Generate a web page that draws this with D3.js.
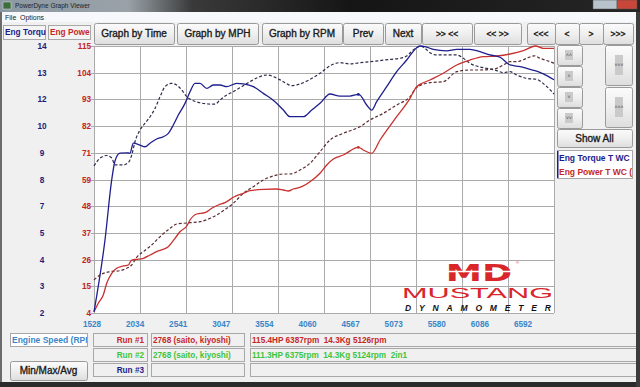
<!DOCTYPE html>
<html>
<head>
<meta charset="utf-8">
<script src="https://cdn.jsdelivr.net/npm/d3@7"></script>
<style>
  body { margin: 0; background: #f0f0f0; overflow: hidden; }
  svg { display: block; font-family: "Liberation Sans", Arial, sans-serif; }
  text { white-space: pre; }
</style>
</head>
<body>
<svg id="chart" width="640" height="387"></svg>
<script>
// rpm tick values along the x axis
const rpmTicks = [1528, 2034, 2541, 3047, 3554, 4060, 4567, 5073, 5580, 6086, 6592];
// left axis tick labels, top to bottom
const torqueTickLabels = ["14", "13", "12", "10", "9", "8", "7", "5", "4", "3", "2"];
const powerTickLabels = ["115", "104", "93", "82", "71", "59", "48", "37", "26", "15", "4"];

// run #1 (solid) and run #2 (dashed), [rpm, value]
const run1Torque = [[1528,1.55],[1649,5.0],[1723,7.88],[1759,8.79],[1814,9.16],[1888,9.18],[1924,9.16],[1961,9.64],[2034,9.55],[2089,9.47],[2145,9.64],[2218,9.84],[2291,9.95],[2346,10.11],[2401,10.51],[2456,10.99],[2530,11.55],[2585,12.11],[2640,12.51],[2695,12.51],[2769,12.27],[2841,12.43],[2915,12.43],[2989,12.35],[3099,12.51],[3172,12.48],[3282,12.35],[3392,12.03],[3521,11.63],[3612,11.23],[3686,10.91],[3832,10.91],[3925,11.23],[4016,11.55],[4126,12.0],[4236,11.9],[4346,11.9],[4438,11.98],[4456,11.95],[4530,11.47],[4585,11.23],[4640,11.63],[4750,12.35],[4860,13.07],[4970,13.63],[5025,13.95],[5087,14.24],[5126,14.3],[5172,14.27],[5263,14.14],[5411,14.07],[5521,14.14],[5667,14.14],[5777,14.03],[5888,13.87],[5998,13.76],[6108,13.39],[6218,13.31],[6328,13.18],[6383,13.12],[6474,12.96],[6592,12.68]];
const run1Power = [[1528,3.92],[1575,7.56],[1630,11.04],[1668,15.95],[1723,20.14],[1778,22.23],[1851,23.2],[1906,23.62],[1943,25.71],[1998,26.0],[2071,26.42],[2145,27.81],[2218,29.19],[2346,31.29],[2420,34.81],[2475,37.57],[2549,39.96],[2585,42.48],[2659,44.99],[2750,45.54],[2824,47.38],[2896,48.76],[2970,49.73],[3062,51.99],[3172,53.67],[3245,54.76],[3392,55.34],[3539,55.47],[3612,55.05],[3667,54.63],[3722,55.47],[3815,56.43],[3906,58.53],[4016,62.05],[4090,65.53],[4163,68.04],[4273,69.72],[4438,72.94],[4493,71.81],[4585,70.43],[4677,76.0],[4860,85.77],[5007,93.48],[5080,98.34],[5227,101.15],[5373,103.96],[5521,107.44],[5667,109.53],[5814,110.92],[5961,111.21],[6108,112.05],[6254,113.43],[6387,115.4],[6474,114.44],[6592,114.44]];
const run2Torque = [[1528,8.55],[1594,8.92],[1668,9.05],[1723,8.93],[1759,8.6],[1851,8.6],[1906,8.71],[1943,9.07],[1979,9.71],[2034,10.27],[2089,10.59],[2145,10.91],[2200,11.31],[2255,11.87],[2310,12.35],[2383,12.51],[2438,12.43],[2494,12.19],[2549,11.87],[2604,11.71],[2695,11.58],[2786,11.52],[2860,11.51],[2915,11.71],[2989,11.95],[3061,12.11],[3154,12.35],[3245,12.59],[3337,12.8],[3429,12.91],[3521,12.8],[3612,12.59],[3704,12.4],[3796,12.48],[3906,12.7],[4016,12.99],[4126,13.35],[4236,13.5],[4346,13.44],[4456,13.5],[4566,13.55],[4677,13.6],[4787,13.66],[4897,13.71],[4970,13.82],[5043,14.11],[5087,14.24],[5124,14.3],[5172,14.19],[5227,13.98],[5301,13.87],[5411,13.87],[5521,13.87],[5594,13.71],[5667,13.47],[5759,13.31],[5851,13.23],[5961,13.12],[6034,13.02],[6108,13.07],[6181,12.91],[6291,12.75],[6401,12.7],[6493,12.43],[6592,12.0]];
const run2Power = [[1528,17.33],[1594,19.43],[1704,20.81],[1814,21.23],[1888,22.23],[1943,23.62],[1998,26.84],[2071,29.19],[2163,32.0],[2255,35.48],[2365,39.0],[2438,40.8],[2511,41.09],[2585,41.34],[2695,41.76],[2805,43.19],[2879,44.57],[2951,46.37],[3062,49.48],[3172,53.67],[3282,56.43],[3392,59.24],[3502,60.92],[3612,61.76],[3686,61.76],[3796,63.43],[3906,66.24],[4016,71.1],[4126,76.0],[4273,78.81],[4456,81.58],[4566,84.39],[4713,87.19],[4860,90.67],[5007,94.15],[5080,98.0],[5227,100.02],[5373,100.44],[5521,104.63],[5667,105.34],[5777,105.34],[5888,105.63],[5961,106.05],[6034,107.44],[6108,108.82],[6181,108.82],[6291,110.25],[6375,111.3],[6438,110.25],[6548,108.82],[6592,108.15]];
// small cursor dots on run #1
const run1Markers = [[4438, 11.98, "T"], [4438, 72.94, "P"]];

const runRows = [
  { label: "Run #1", name: "2768 (saito, kiyoshi)", summary: "115.4HP 6387rpm  14.3Kg 5126rpm", color: "#c62828" },
  { label: "Run #2", name: "2768 (saito, kiyoshi)", summary: "111.3HP 6375rpm  14.3Kg 5124rpm  2in1", color: "#3ec43e" },
  { label: "Run #3", name: "", summary: "", color: "#1c1c8a" }
];
const topButtons = ["Graph by Time", "Graph by MPH", "Graph by RPM", "Prev", "Next", ">> <<", "<< >>", "<<<", "<", ">", ">>>"];
const topButtonX = [94, 177, 262, 343, 385, 422, 474, 527, 555, 579, 603];
const topButtonW = [80, 81, 80, 40, 36, 50, 47, 28, 24, 24, 30];

const svg = d3.select("#chart");
const plot = { left: 94, right: 554, top: 46, bottom: 313 };

const x = d3.scaleLinear().domain([1528, 6592]).range([plot.left, plot.right]);
const yT = d3.scaleLinear().domain([1.5, 14.3]).range([plot.bottom, plot.top]);
const yP = d3.scaleLinear().domain([3.5, 115.4]).range([plot.bottom, plot.top]);
const xLab = d3.scalePoint().domain(rpmTicks).range([92, 523]);
const yLab = d3.scalePoint().domain(d3.range(powerTickLabels.length)).range([plot.top, plot.bottom]);

const defs = svg.append("defs");
const tg = defs.append("linearGradient").attr("id", "titlebar");
[["0", "#8b98a2"], ["0.2", "#9aa2a8"], ["0.3", "#3a3a3a"], ["0.55", "#151515"], ["1", "#262626"]]
  .forEach(s => tg.append("stop").attr("offset", s[0]).attr("stop-color", s[1]));
const bg = defs.append("linearGradient").attr("id", "btn").attr("x2", 0).attr("y2", 1);
[["0", "#fbfbfb"], ["0.5", "#efefef"], ["1", "#dddddd"]]
  .forEach(s => bg.append("stop").attr("offset", s[0]).attr("stop-color", s[1]));
defs.append("clipPath").attr("id", "rpmClip").append("rect").attr("x", 11).attr("y", 333).attr("width", 76).attr("height", 13);
defs.append("clipPath").attr("id", "legClip").append("rect").attr("x", 558).attr("y", 151).attr("width", 74).attr("height", 27);

// window frame
svg.append("rect").attr("width", 640).attr("height", 387).attr("fill", "#f0f0f0");
svg.append("rect").attr("width", 640).attr("height", 12).attr("fill", "url(#titlebar)");
svg.append("rect").attr("x", 3).attr("y", 2).attr("width", 8).attr("height", 7).attr("fill", "#3c6e3c").attr("stroke", "#ddd").attr("stroke-width", 0.5);
svg.append("text").attr("x", 15).attr("y", 8).attr("font-size", 6.5).attr("fill", "#222").text("PowerDyne Graph Viewer");
svg.append("rect").attr("x", 593).attr("y", 0).attr("width", 24).attr("height", 9).attr("fill", "#b9c3cc").attr("stroke", "#555").attr("stroke-width", 0.5);
svg.append("rect").attr("x", 617).attr("y", 0).attr("width", 20).attr("height", 9).attr("fill", "#c9463a").attr("stroke", "#555").attr("stroke-width", 0.5);
svg.append("rect").attr("x", 0).attr("y", 12).attr("width", 640).attr("height", 10).attr("fill", "#f6f8fb");
svg.append("text").attr("x", 5).attr("y", 20).attr("font-size", 7).attr("fill", "#222").text("File");
svg.append("text").attr("x", 20).attr("y", 20).attr("font-size", 7).attr("fill", "#222").text("Options");
svg.append("rect").attr("x", 636).attr("y", 12).attr("width", 4).attr("height", 375).attr("fill", "#3c3c3c");
svg.append("rect").attr("x", 0).attr("y", 12).attr("width", 2).attr("height", 375).attr("fill", "#6b6b6b");
svg.append("rect").attr("x", 0).attr("y", 382).attr("width", 640).attr("height", 5).attr("fill", "#2b2b2b");

function button(g, bx, by, bw, bh, label, size) {
  g.append("rect").attr("x", bx + 0.5).attr("y", by + 0.5).attr("width", bw).attr("height", bh)
    .attr("rx", 2).attr("fill", "url(#btn)").attr("stroke", "#9a9a9a");
  g.append("text").attr("x", bx + bw / 2).attr("y", by + bh / 2 + 3.5).attr("text-anchor", "middle")
    .attr("font-size", size).attr("fill", "#1a1a1a").attr("stroke", "#1a1a1a").attr("stroke-width", 0.35).text(label);
}
function field(g, bx, by, bw, bh, fill) {
  g.append("rect").attr("x", bx + 0.5).attr("y", by + 0.5).attr("width", bw).attr("height", bh)
    .attr("fill", fill || "#f0f0f0").attr("stroke", "#a8a8a8");
}

const ui = svg.append("g");
topButtons.forEach((t, i) => button(ui, topButtonX[i], 23, topButtonW[i], 21, t, i < 5 ? 10 : 8.5));

// axis name boxes
field(ui, 3, 25, 42, 14, "#f4f4f4");
field(ui, 48, 25, 42, 14, "#f4f4f4");
ui.append("text").attr("x", 5).attr("y", 35).attr("font-size", 8.3).attr("font-weight", "bold").attr("fill", "#1c1c8a").text("Eng Torqu");
ui.append("text").attr("x", 50).attr("y", 35).attr("font-size", 8.3).attr("font-weight", "bold").attr("fill", "#c62828").text("Eng Powe");

// plot background and grid
const chart = svg.append("g");
chart.append("rect").attr("x", plot.left).attr("y", plot.top).attr("width", plot.right - plot.left).attr("height", plot.bottom - plot.top).attr("fill", "#fff");
chart.selectAll("line.v").data(rpmTicks).join("line").attr("class", "v")
  .attr("x1", d => Math.round(x(d)) + 0.5).attr("x2", d => Math.round(x(d)) + 0.5)
  .attr("y1", plot.top).attr("y2", plot.bottom).attr("stroke", "#aaaaaa");
chart.selectAll("line.h").data(yLab.domain()).join("line").attr("class", "h")
  .attr("x1", plot.left - 3).attr("x2", plot.right)
  .attr("y1", d => Math.round(yLab(d)) + 0.5).attr("y2", d => Math.round(yLab(d)) + 0.5)
  .attr("stroke", "#aaaaaa");

// tick labels
chart.selectAll("text.tq").data(torqueTickLabels).join("text").attr("class", "tq")
  .attr("x", 42).attr("y", (d, i) => yLab(i) + 3).attr("text-anchor", "middle")
  .attr("font-size", 8.2).attr("font-weight", "bold").attr("fill", "#1c1c7c").text(d => d);
chart.selectAll("text.pw").data(powerTickLabels).join("text").attr("class", "pw")
  .attr("x", 91).attr("y", (d, i) => yLab(i) + 3).attr("text-anchor", "end")
  .attr("font-size", 8.2).attr("font-weight", "bold").attr("fill", "#c02424").text(d => d);
chart.selectAll("text.rpm").data(rpmTicks).join("text").attr("class", "rpm")
  .attr("x", d => xLab(d)).attr("y", 327).attr("text-anchor", "middle")
  .attr("font-size", 8.2).attr("font-weight", "bold").attr("fill", "#3a86c8").text(d => d);

// logo
const logo = chart.append("g");
logo.append("text").attr("x", 479).attr("y", 281).attr("text-anchor", "middle").attr("font-size", 27)
  .attr("font-weight", "bold").attr("font-family", "DejaVu Sans").attr("fill", "#d8262b")
  .attr("transform", "translate(479,281) scale(1.35,0.85) translate(-479,-281)").text("MD");
logo.append("line").attr("x1", 445).attr("x2", 515).attr("y1", 271.5).attr("y2", 271.5).attr("stroke", "#fff").attr("stroke-width", 1.5);
logo.append("text").attr("x", 516).attr("y", 264).attr("font-size", 4).attr("fill", "#d8262b").text("®");
logo.append("text").attr("x", 402).attr("y", 298).attr("font-size", 15).attr("fill", "#d8262b")
  .attr("textLength", 151).attr("lengthAdjust", "spacingAndGlyphs").text("MUSTANG");
logo.append("text").attr("x", 405).attr("y", 311).attr("font-size", 8.5).attr("font-weight", "bold")
  .attr("font-style", "italic").attr("fill", "#111").attr("textLength", 146).text("DYNAMOMETER");

// curves
const lineT = d3.line().x(d => x(d[0])).y(d => yT(d[1])).curve(d3.curveMonotoneX);
const lineP = d3.line().x(d => x(d[0])).y(d => yP(d[1])).curve(d3.curveMonotoneX);
chart.append("path").datum(run2Power).attr("d", lineP).attr("fill", "none").attr("stroke", "#5a2b30").attr("stroke-width", 1.2).attr("stroke-dasharray", "3,2");
chart.append("path").datum(run2Torque).attr("d", lineT).attr("fill", "none").attr("stroke", "#2c2c4c").attr("stroke-width", 1.2).attr("stroke-dasharray", "3,2");
chart.append("path").datum(run1Power).attr("d", lineP).attr("fill", "none").attr("stroke", "#c8302e").attr("stroke-width", 1.3);
chart.append("path").datum(run1Torque).attr("d", lineT).attr("fill", "none").attr("stroke", "#1e1e8e").attr("stroke-width", 1.3);
chart.selectAll("circle.mk").data(run1Markers).join("circle").attr("class", "mk")
  .attr("cx", d => x(d[0])).attr("cy", d => d[2] === "T" ? yT(d[1]) : yP(d[1])).attr("r", 1.4)
  .attr("fill", d => d[2] === "T" ? "#1e1e8e" : "#c8302e");

// right panel
const rp = svg.append("g");
[[557, 45, 25, 20], [557, 66, 25, 20], [557, 87, 25, 20], [557, 108, 25, 20], [605, 45, 27, 40], [605, 87, 27, 40]]
  .forEach(b => button(rp, b[0], b[1], b[2], b[3], "", 8));
[[565, 50, 8, 10, "\u02c4\u02c4"], [565, 71, 8, 10, "\u02c4"], [565, 92, 8, 10, "\u02c5"], [565, 113, 8, 10, "\u02c5\u02c5"], [615, 55, 8, 20, "\u02c5\u02c5\u02c5"], [615, 97, 8, 20, "\u02c4\u02c4\u02c4"]]
  .forEach(b => {
    rp.append("rect").attr("x", b[0]).attr("y", b[1]).attr("width", b[2]).attr("height", b[3]).attr("fill", "#cacaca");
    rp.append("text").attr("x", b[0] + 4).attr("y", b[1] + b[3] / 2 + 2).attr("text-anchor", "middle")
      .attr("font-size", 5).attr("fill", "#444").text(b[4]);
  });
button(rp, 557, 129, 75, 18, "Show All", 10);
rp.append("rect").attr("x", 557.5).attr("y", 150.5).attr("width", 75).attr("height", 28).attr("fill", "#fff").attr("stroke", "#a8a8a8");
const leg = rp.append("g").attr("clip-path", "url(#legClip)");
leg.append("text").attr("x", 559).attr("y", 161).attr("font-size", 8.5).attr("font-weight", "bold").attr("fill", "#1c1c8a").text("Eng Torque T WC (");
leg.append("text").attr("x", 559).attr("y", 175).attr("font-size", 8.5).attr("font-weight", "bold").attr("fill", "#c62828").text("Eng Power T WC (");
rp.append("rect").attr("x", 557).attr("y", 151).attr("width", 1.5).attr("height", 27).attr("fill", "#1c1c8a");

// bottom run table
const bt = svg.append("g");
field(bt, 10, 333, 77, 13, "#fff");
bt.append("text").attr("clip-path", "url(#rpmClip)").attr("x", 12).attr("y", 343).attr("font-size", 8.5).attr("font-weight", "bold").attr("fill", "#3a86c8").text("Engine Speed (RPM)");
runRows.forEach((r, i) => {
  const ry = 333 + i * 15;
  field(bt, 93, ry, 54, 13);
  field(bt, 151, ry, 93, 13);
  field(bt, 250, ry, 390, 13);
  bt.append("text").attr("x", 144).attr("y", ry + 10).attr("text-anchor", "end").attr("font-size", 8.2).attr("font-weight", "bold").attr("fill", r.color).text(r.label);
  bt.append("text").attr("x", 153).attr("y", ry + 10).attr("font-size", 8.2).attr("font-weight", "bold").attr("fill", r.color).text(r.name);
  bt.append("text").attr("x", 252).attr("y", ry + 10).attr("font-size", 8.2).attr("font-weight", "bold").attr("fill", r.color).text(r.summary);
});
button(bt, 10, 361, 77, 19, "Min/Max/Avg", 10);
svg.append("rect").attr("x", 636).attr("y", 330).attr("width", 4).attr("height", 57).attr("fill", "#3c3c3c");
</script>
</body>
</html>
